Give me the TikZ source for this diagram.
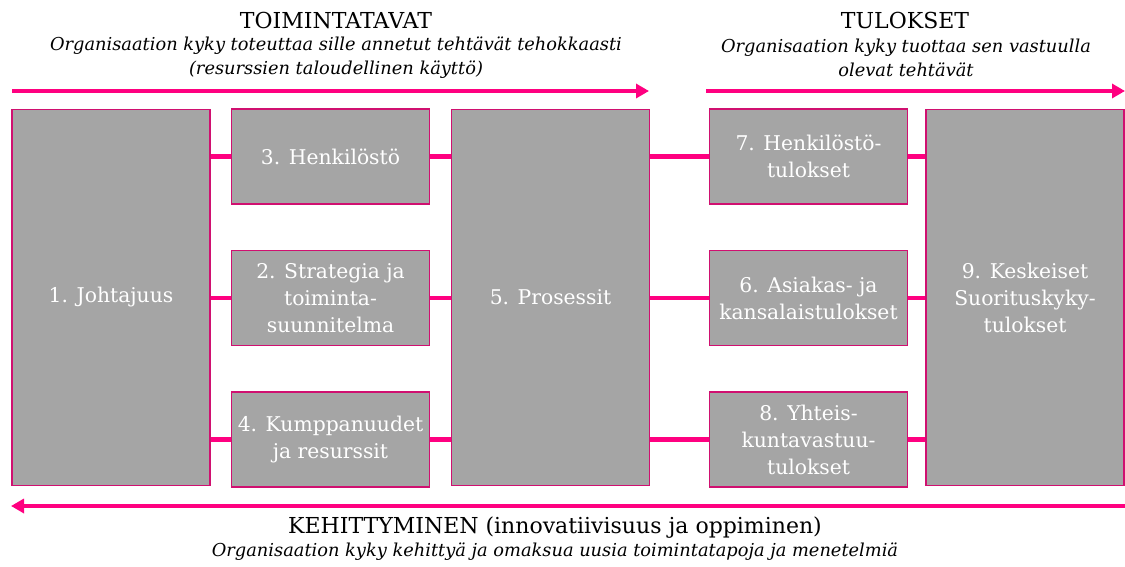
\documentclass[tikz,border=0pt]{standalone}
\usepackage{fontspec}
\setmainfont{DejaVu Serif}
\usetikzlibrary{arrows.meta}
\definecolor{pinkline}{HTML}{FF0080}
\definecolor{pinkedge}{HTML}{D01070}
\definecolor{boxgray}{HTML}{A5A5A5}
\tikzset{
  box/.style={draw=pinkedge, line width=1.6pt, fill=boxgray, text=white,
    minimum width=198pt, inner sep=2pt, align=center,
    font=\fontsize{20.3}{27}\selectfont},
  smallbox/.style={box, minimum height=95pt},
  bigbox/.style={box, minimum height=376pt},
  conn/.style={draw=pinkline, line width=4.5pt},
  flow/.style={draw=pinkline, line width=4pt, -{Triangle[length=13pt,width=14pt]}},
  head/.style={font=\fontsize{22}{26}\selectfont, align=center},
  sub/.style={font=\itshape\fontsize{17.8}{24}\selectfont, align=center}
}
\begin{document}
\begin{tikzpicture}[x=1pt,y=-1pt]
\useasboundingbox (0,0) rectangle (1125,567);
% boxes
\node[bigbox] (b1) at (111,297.5) {1. Johtajuus};
\node[smallbox] (b3) at (330.5,156.5) {3. Henkilöstö};
\node[smallbox] (b2) at (330.5,298) {2. Strategia ja\\toiminta-\\suunnitelma};
\node[smallbox] (b4) at (330.5,439.5) {4. Kumppanuudet\\ja resurssit};
\node[bigbox] (b5) at (550.5,297.5) {5. Prosessit};
\node[smallbox] (b7) at (808.5,156.5) {7. Henkilöstö-\\tulokset};
\node[smallbox] (b6) at (808.5,298) {6. Asiakas- ja\\kansalaistulokset};
\node[smallbox] (b8) at (808.5,439.5) {8. Yhteis-\\kuntavastuu-\\tulokset};
\node[bigbox] (b9) at (1025,297.5) {9. Keskeiset\\Suorituskyky-\\tulokset};
% connectors
\foreach \m/\r in {b3/b7, b2/b6, b4/b8} {
  \draw[conn] (b1.east |- \m.west) -- (\m.west);
  \draw[conn] (\m.east) -- (\m.east -| b5.west);
  \draw[conn] (b5.east |- \r.west) -- (\r.west);
  \draw[conn] (\r.east) -- (\r.east -| b9.west);
}
% headings
\node[head] (h1) at (336,20) {TOIMINTATAVAT};
\node[sub] (s1) at (336,58) {Organisaation kyky toteuttaa sille annetut tehtävät tehokkaasti\\(resurssien taloudellinen käyttö)};
\node[head] (h2) at (905,20) {TULOKSET};
\node[sub] (s2) at (906,58) {Organisaation kyky tuottaa sen vastuulla\\olevat tehtävät};
\node[head] (h3) at (555,528) {KEHITTYMINEN (innovatiivisuus ja oppiminen)};
\node[sub] (s3) at (555,552) {Organisaation kyky kehittyä ja omaksua uusia toimintatapoja ja menetelmiä};
% flow arrows
\coordinate (a1s) at (12,91);
\coordinate (a1e) at (649,91);
\coordinate (a2s) at (706,91);
\coordinate (a2e) at (1125,91);
\coordinate (a3s) at (1125,506);
\coordinate (a3e) at (11,506);
\draw[flow] (a1s) -- (a1e);
\draw[flow] (a2s) -- (a2e);
\draw[flow] (a3s) -- (a3e);
\end{tikzpicture}
\end{document}
